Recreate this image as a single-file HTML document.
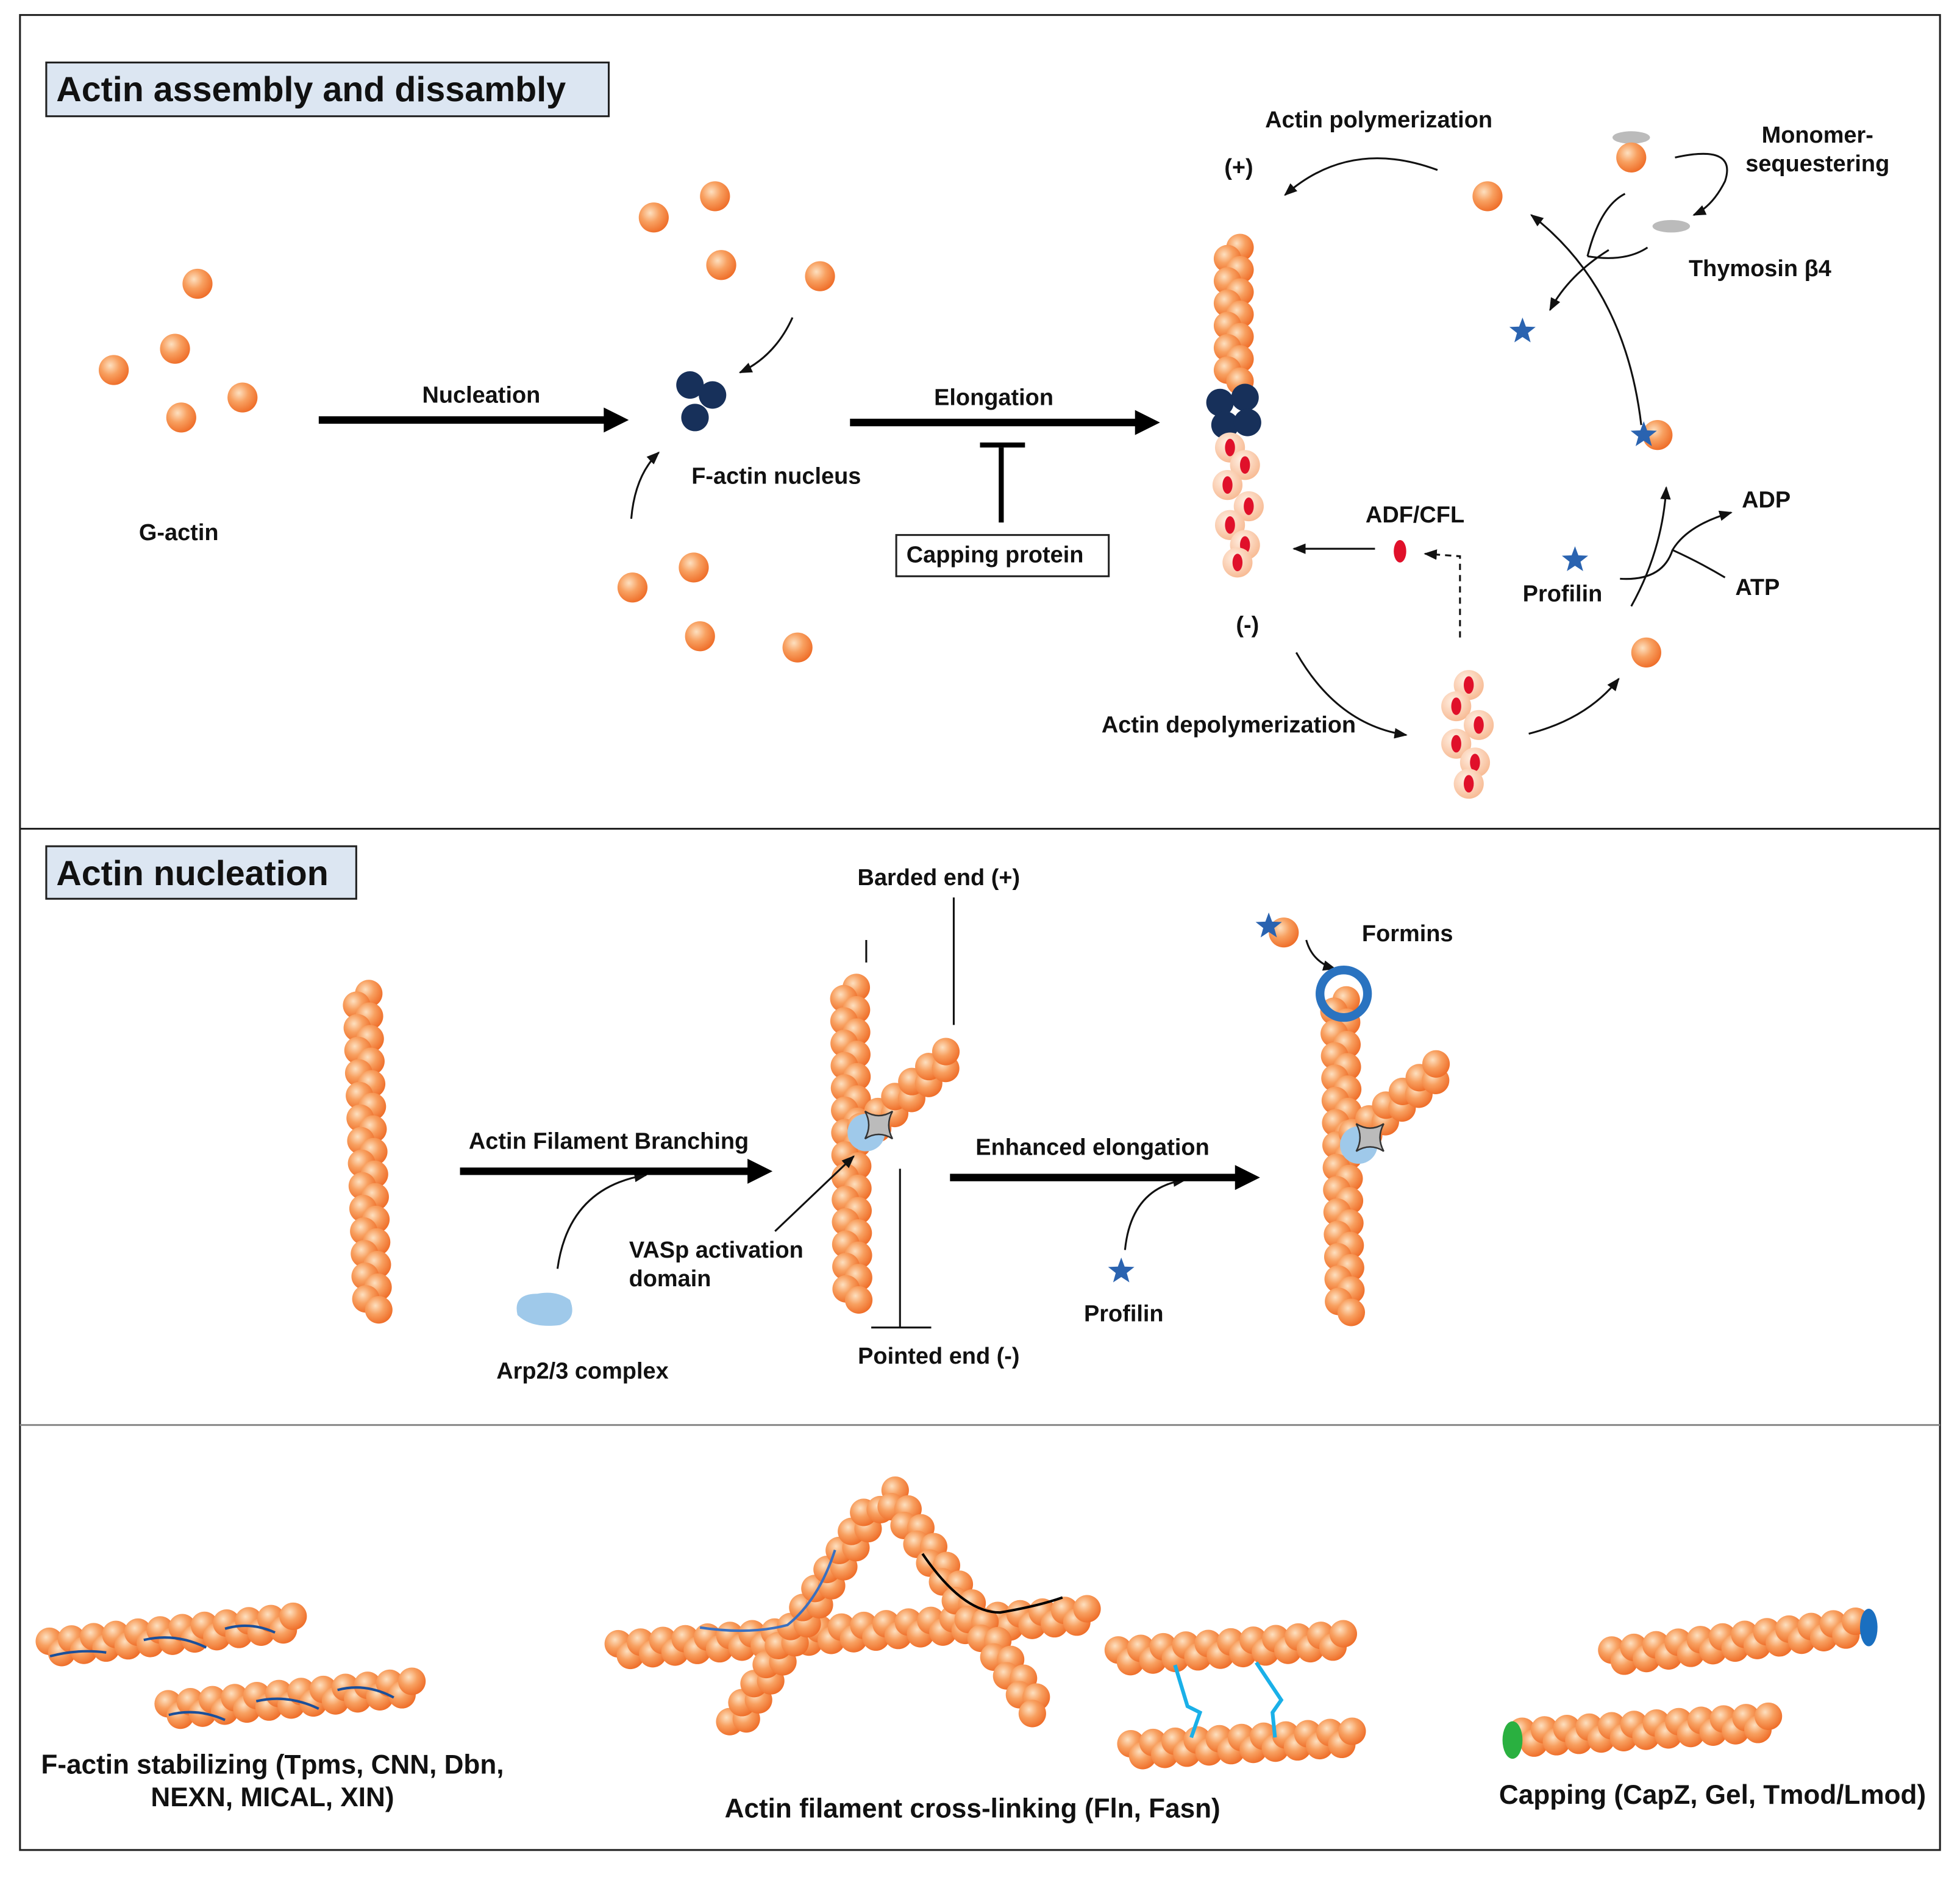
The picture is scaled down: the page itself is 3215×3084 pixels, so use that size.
<!DOCTYPE html>
<html><head><meta charset="utf-8">
<style>
html,body{margin:0;padding:0;background:#fff;}
svg{display:block;}
text{font-family:"Liberation Sans",Arial,sans-serif;font-weight:bold;fill:#111;}
</style></head>
<body>
<svg id="s" width="3215" height="3084" viewBox="0 0 1568 1504" preserveAspectRatio="none" xmlns="http://www.w3.org/2000/svg">
<defs>
<radialGradient id="g" cx="0.38" cy="0.35" r="0.7">
<stop offset="0" stop-color="#fde0c0"/><stop offset="0.45" stop-color="#f8a060"/><stop offset="1" stop-color="#ee6a25"/>
</radialGradient>
<radialGradient id="p" cx="0.4" cy="0.35" r="0.7">
<stop offset="0" stop-color="#fff0e4"/><stop offset="1" stop-color="#f7b890"/>
</radialGradient>
<marker id="a" viewBox="0 0 10 10" refX="9" refY="5" markerWidth="7" markerHeight="7" orient="auto"><path d="M0,1 L10,5 L0,9 z" fill="#111"/></marker>
</defs>
<rect x="16" y="12" width="1536" height="1468" fill="#fff" stroke="#222" stroke-width="1.5"/>
<line x1="16" y1="663" x2="1552" y2="663" stroke="#222" stroke-width="1.5"/>
<line x1="16" y1="1140" x2="1552" y2="1140" stroke="#888" stroke-width="1.5"/>
<rect x="37" y="50" width="450" height="43" fill="#dce6f2" stroke="#222" stroke-width="1.5"/>
<text x="45" y="81" font-size="28">Actin assembly and dissambly</text>
<rect x="37" y="677" width="248" height="42" fill="#dce6f2" stroke="#222" stroke-width="1.5"/>
<text x="45" y="708" font-size="28">Actin nucleation</text>
<g id="beads"></g>
<g fill="none" stroke="#111" stroke-width="1.5">
<path d="M634,254 Q620,285 592,298" marker-end="url(#a)"/>
<path d="M505,415 Q508,380 527,362" marker-end="url(#a)"/>
<path d="M1150,136 Q1080,110 1028,156" marker-end="url(#a)"/>
<path d="M1037,522 Q1070,580 1125,588" marker-end="url(#a)"/>
<path d="M1223,587 Q1270,575 1295,543" marker-end="url(#a)"/>
<path d="M1313,340 Q1300,230 1225,172" marker-end="url(#a)"/>
<path d="M1287,200 Q1255,220 1240,248" marker-end="url(#a)"/>
<path d="M1270,205 Q1280,165 1300,155" />
<path d="M1270,205 Q1300,210 1318,198" />
<path d="M1340,126 Q1390,115 1380,145 Q1370,165 1355,172" marker-end="url(#a)"/>
<path d="M1305,485 Q1330,440 1333,390" marker-end="url(#a)"/>
<path d="M1296,463 Q1330,465 1338,440 Q1350,420 1385,410" marker-end="url(#a)"/>
<path d="M1338,440 Q1360,450 1380,462"/>
<path d="M1168,510 L1168,445 L1140,443" stroke-dasharray="5,4" marker-end="url(#a)"/>
<path d="M1100,439 L1035,439" marker-end="url(#a)"/>
<path d="M446,1015 Q455,950 517,940" marker-end="url(#a)"/>
<path d="M620,985 L683,925" marker-end="url(#a)"/>
<path d="M900,1000 Q905,950 948,944" marker-end="url(#a)"/>
<path d="M1045,752 Q1050,770 1068,775" marker-end="url(#a)"/>
<line x1="693" y1="752" x2="693" y2="770"/>
<line x1="763" y1="718" x2="763" y2="820"/>
<line x1="720" y1="935" x2="720" y2="1062"/>
<line x1="697" y1="1062" x2="745" y2="1062"/>
</g>
<g stroke="#000" stroke-width="6" fill="none">
<line x1="255" y1="336" x2="485" y2="336"/><line x1="680" y1="338" x2="910" y2="338"/>
<line x1="368" y1="937" x2="600" y2="937"/><line x1="760" y1="942" x2="990" y2="942"/>
<line x1="801" y1="358" x2="801" y2="418" stroke-width="4"/><line x1="784" y1="356" x2="820" y2="356" stroke-width="4"/>
</g>
<g fill="#000">
<path d="M483,326 L503,336 L483,346z"/><path d="M908,328 L928,338 L908,348z"/>
<path d="M598,927 L618,937 L598,947z"/><path d="M988,932 L1008,942 L988,952z"/>
</g>
<rect x="717" y="428" width="170" height="33" fill="#fff" stroke="#222" stroke-width="1.5"/>
<g font-size="18.5" text-anchor="middle">
<text x="143" y="432">G-actin</text>
<text x="385" y="322">Nucleation</text>
<text x="621" y="387">F-actin nucleus</text>
<text x="795" y="324">Elongation</text>
<text x="796" y="450">Capping protein</text>
<text x="991" y="140">(+)</text>
<text x="998" y="506">(-)</text>
<text x="1103" y="102">Actin polymerization</text>
<text x="1454" y="114">Monomer-</text>
<text x="1454" y="137">sequestering</text>
<text x="1408" y="221">Thymosin β4</text>
<text x="1413" y="406">ADP</text>
<text x="1406" y="476">ATP</text>
<text x="1250" y="481">Profilin</text>
<text x="1132" y="418">ADF/CFL</text>
<text x="983" y="586">Actin depolymerization</text>
<text x="751" y="708">Barded end (+)</text>
<text x="487" y="919">Actin Filament Branching</text>
<text x="466" y="1103">Arp2/3 complex</text>
<text x="573" y="1006">VASp activation</text>
<text x="536" y="1029">domain</text>
<text x="751" y="1091">Pointed end (-)</text>
<text x="874" y="924">Enhanced elongation</text>
<text x="899" y="1057">Profilin</text>
<text x="1126" y="753">Formins</text>
</g>
<g font-size="21.5" text-anchor="middle">
<text x="218" y="1419">F-actin stabilizing (Tpms, CNN, Dbn,</text>
<text x="218" y="1445">NEXN, MICAL, XIN)</text>
<text x="778" y="1454">Actin filament cross-linking (Fln, Fasn)</text>
<text x="1370" y="1443">Capping (CapZ, Gel, Tmod/Lmod)</text>
</g>
<g id="top"></g>
</svg>
<script>
var NS="http://www.w3.org/2000/svg",B=document.getElementById("beads"),T=document.getElementById("top");
function el(t,a,p){var e=document.createElementNS(NS,t);for(var k in a)e.setAttribute(k,a[k]);(p||B).appendChild(e);return e;}
function bead(x,y,r,f){el("circle",{cx:x,cy:y,r:r||12,fill:f||"url(#g)"});}
function fil(x1,y1,x2,y2,r,sp){r=r||11;sp=sp||9;var dx=x2-x1,dy=y2-y1,L=Math.hypot(dx,dy),n=Math.round(L/sp),ux=dx/L,uy=dy/L,px=-uy*5,py=ux*5;
for(var i=0;i<=n;i++){var t=i/n,s=(i%2?1:-1);bead(x1+dx*t+px*s,y1+dy*t+py*s,r);}}
function star(x,y,s,p){s=s||11;var d="";for(var i=0;i<10;i++){var a=-Math.PI/2+i*Math.PI/5,rr=i%2?s*0.42:s;d+=(i?"L":"M")+(x+rr*Math.cos(a)).toFixed(1)+","+(y+rr*Math.sin(a)).toFixed(1);}el("path",{d:d+"z",fill:"#2a63b0"},p);}
function redb(x,y){bead(x,y,12,"url(#p)");el("ellipse",{cx:x,cy:y,rx:4,ry:7,fill:"#e0102a"});}
[[158,227],[140,279],[91,296],[194,318],[145,334],[523,174],[572,157],[577,212],[656,221],[506,470],[555,454],[560,509],[638,518],[1190,157],[1317,522],[1326,348]].forEach(function(b){bead(b[0],b[1]);});
[[552,308],[570,316],[556,334]].forEach(function(b){el("circle",{cx:b[0],cy:b[1],r:11,fill:"#17305a"});});
fil(987,198,987,305,11,9);
[[976,322],[996,318],[980,340],[998,338]].forEach(function(b){el("circle",{cx:b[0],cy:b[1],r:11,fill:"#17305a"});});
[[984,358],[996,372],[982,388],[999,405],[984,420],[996,436],[990,450]].forEach(function(b){redb(b[0],b[1]);});
[[1175,548],[1165,565],[1183,580],[1165,595],[1180,610],[1175,627]].forEach(function(b){redb(b[0],b[1]);});
el("ellipse",{cx:1120,cy:441,rx:5,ry:9,fill:"#e0102a"});
el("ellipse",{cx:1305,cy:110,rx:15,ry:5,fill:"#bbb"});bead(1305,126,12);
el("ellipse",{cx:1337,cy:181,rx:15,ry:5,fill:"#bbb"});
star(1218,265,11,T);star(1315,348,11,T);star(1260,448);star(897,1017);
fil(290,795,298,1048);
fil(680,790,682,1040);fil(692,905,760,845);
el("circle",{cx:693,cy:906,r:15,fill:"#9fc9ea"},T);
el("path",{d:"M692,889 Q703,896 714,889 Q708,900 714,911 Q703,904 692,911 Q698,900 692,889z",fill:"#bbb",stroke:"#333","stroke-width":1.2},T);
el("path",{d:"M414,1052 Q410,1035 430,1035 Q445,1032 456,1040 Q462,1055 448,1060 Q425,1063 414,1052z",fill:"#9fc9ea"});
fil(1072,800,1076,1050);fil(1085,910,1152,855);
el("circle",{cx:1087,cy:916,r:15,fill:"#9fc9ea"},T);
el("path",{d:"M1085,899 Q1096,906 1107,899 Q1101,910 1107,921 Q1096,914 1085,921 Q1091,910 1085,899z",fill:"#bbb",stroke:"#333","stroke-width":1.2},T);
el("circle",{cx:1075,cy:795,r:19,fill:"none",stroke:"#2a73c0","stroke-width":7},T);
bead(1027,746);star(1015,741,11,T);
fil(40,1318,235,1298);fil(135,1368,330,1350);
[[40,1325,85,1322],[115,1312,165,1318],[180,1303,220,1306],[135,1372,180,1376],[205,1361,255,1367],[270,1352,315,1358]].forEach(function(l){el("path",{d:"M"+l[0]+","+l[1]+" Q"+((l[0]+l[2])/2)+","+(l[1]-6)+" "+l[2]+","+l[3],stroke:"#1a4f9a","stroke-width":2,fill:"none"},T);});
fil(495,1320,870,1292);fil(588,1380,700,1205);fil(712,1195,830,1368);
el("path",{d:"M560,1302 Q600,1308 630,1300 Q655,1280 668,1240",stroke:"#3a70c0","stroke-width":2,fill:"none"},T);
el("path",{d:"M738,1243 Q770,1290 800,1290 Q830,1285 850,1278",stroke:"#000","stroke-width":2,fill:"none"},T);
fil(895,1325,1075,1312);fil(905,1400,1082,1390);
el("path",{d:"M940,1332 L950,1365 L960,1370 L953,1390",stroke:"#1ab0e8","stroke-width":3,fill:"none"},T);
el("path",{d:"M1005,1330 L1025,1360 L1018,1370 L1020,1390",stroke:"#1ab0e8","stroke-width":3,fill:"none"},T);
fil(1290,1325,1485,1302);fil(1218,1390,1415,1378);
el("ellipse",{cx:1495,cy:1302,rx:7,ry:15,fill:"#1a6fc0"},T);
el("ellipse",{cx:1210,cy:1392,rx:8,ry:15,fill:"#2ab040"},T);
</script>
</body></html>
